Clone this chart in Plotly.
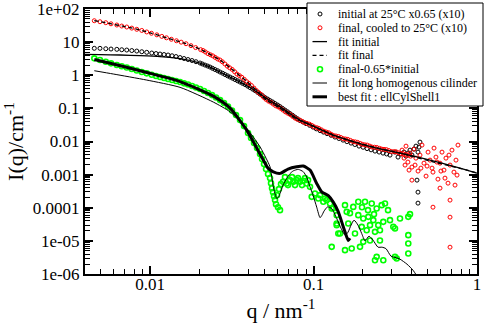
import plotly.graph_objects as go

# ---------------- data (q in nm^-1, I in cm^-1) ----------------
initial_pts = [
    (0.00456, 6.50), (0.00494, 6.50), (0.00536, 6.32), (0.00577, 6.19), (0.00626, 6.06),
    (0.00671, 5.89), (0.00720, 5.77), (0.00773, 5.57), (0.00829, 5.38), (0.00890, 5.13),
    (0.00954, 4.92), (0.01024, 4.69), (0.01088, 4.52), (0.01151, 4.37), (0.01218, 4.22),
    (0.01289, 4.08), (0.01363, 3.88), (0.01442, 3.67), (0.01526, 3.42), (0.01614, 3.20),
    (0.01708, 2.98), (0.01807, 2.78), (0.01911, 2.56), (0.02022, 2.34), (0.02170, 2.03),
    (0.02328, 1.77), (0.02498, 1.49), (0.02680, 1.25), (0.02876, 1.05), (0.03085, 0.882),
    (0.03311, 0.741), (0.03552, 0.623), (0.03811, 0.524), (0.04089, 0.425), (0.04387, 0.345),
    (0.04707, 0.270), (0.05050, 0.212), (0.05419, 0.172), (0.05814, 0.140), (0.06238, 0.113),
    (0.06693, 0.0888), (0.07181, 0.0697), (0.07705, 0.0546), (0.08266, 0.0428), (0.08996, 0.0347),
    (0.09929, 0.0272), (0.1096, 0.0213), (0.1209, 0.0173), (0.1353, 0.0136), (0.1515, 0.0110),
    (0.1696, 0.00895), (0.1898, 0.00726), (0.2124, 0.00610), (0.2377, 0.00513), (0.2661, 0.00446),
    (0.2937, 0.00388), (0.3151, 0.00478), (0.3288, 0.00338), (0.3429, 0.00416), (0.3577, 0.00478),
    (0.3679, 0.00362), (0.3784, 0.00446), (0.3892, 0.00550), (0.4003, 0.00388), (0.4117, 0.00589),
    (0.4234, 0.00726), (0.4356, 0.00478), (0.4418, 0.00677), (0.4480, 0.00959),
    (0.4295, 0.000682), (0.4356, 0.000296), (0.4356, 0.000138),
    (0.0209, 2.19), (0.0225, 1.90), (0.0241, 1.62), (0.0259, 1.37), (0.0278, 1.15),
    (0.0298, 0.96), (0.0320, 0.81), (0.0343, 0.68), (0.0368, 0.57), (0.0395, 0.472),
    (0.0424, 0.383), (0.0455, 0.305), (0.0488, 0.240), (0.0524, 0.191), (0.0562, 0.156),
    (0.0603, 0.126), (0.0646, 0.100), (0.0694, 0.0786), (0.0744, 0.0617), (0.0798, 0.0485),
    (0.0863, 0.0386), (0.0946, 0.0308), (0.104, 0.0241), (0.115, 0.0192), (0.128, 0.0154),
    (0.143, 0.0123), (0.160, 0.0099), (0.179, 0.0081), (0.201, 0.0067), (0.225, 0.0056),
    (0.252, 0.0048), (0.280, 0.0042),
]

final_pts = [
    (0.00456, 44.3), (0.00494, 41.3), (0.00536, 38.6), (0.00577, 35.7), (0.00626, 32.9),
    (0.00671, 30.6), (0.00720, 28.6), (0.00773, 26.5), (0.00829, 24.4), (0.00890, 22.5),
    (0.00954, 20.3), (0.0102, 18.5), (0.0110, 16.6), (0.0118, 14.9), (0.0126, 13.5),
    (0.0135, 12.2), (0.0145, 11.0), (0.0155, 9.98), (0.0166, 8.95), (0.0178, 7.81),
    (0.0190, 6.84), (0.0204, 5.93), (0.0218, 5.04), (0.0234, 4.15), (0.0250, 3.47),
    (0.0268, 2.88), (0.0287, 2.19), (0.0307, 1.68), (0.0329, 1.28), (0.0352, 0.977),
    (0.0377, 0.752), (0.0403, 0.565), (0.0432, 0.411), (0.0462, 0.299), (0.0495, 0.218),
    (0.0530, 0.166), (0.0567, 0.135), (0.0607, 0.111), (0.0650, 0.0891), (0.0696, 0.0713),
    (0.0745, 0.0574), (0.0797, 0.0467), (0.0853, 0.0404), (0.0913, 0.0352), (0.0978, 0.0305),
    (0.105, 0.0260), (0.112, 0.0224), (0.120, 0.0192), (0.128, 0.0166), (0.137, 0.0147),
    (0.147, 0.0132), (0.157, 0.0119), (0.168, 0.0108), (0.180, 0.00975), (0.193, 0.00875),
    (0.206, 0.00794), (0.221, 0.00726), (0.236, 0.00673), (0.253, 0.00622), (0.270, 0.00578),
    (0.289, 0.00534), (0.310, 0.00493), (0.331, 0.00457), (0.355, 0.00419), (0.380, 0.00383),
    (0.0211, 5.6), (0.0226, 4.5), (0.0242, 3.85), (0.0259, 3.1), (0.0277, 2.55),
    (0.0297, 1.88), (0.0318, 1.5), (0.0340, 1.09), (0.0364, 0.87), (0.0390, 0.64),
    (0.0417, 0.49), (0.0447, 0.345), (0.0478, 0.262), (0.0512, 0.187), (0.0548, 0.153),
    (0.0587, 0.120), (0.0628, 0.101), (0.0673, 0.0785), (0.0720, 0.0652), (0.0771, 0.0508),
    (0.0825, 0.0442), (0.0883, 0.0371), (0.0945, 0.0334), (0.101, 0.0277), (0.108, 0.0247),
    (0.116, 0.0204), (0.124, 0.0183), (0.132, 0.0153), (0.142, 0.0142), (0.152, 0.0122),
    (0.162, 0.0116), (0.174, 0.0100), (0.186, 0.0094), (0.199, 0.0082), (0.213, 0.0078),
    (0.228, 0.0068), (0.244, 0.0066), (0.261, 0.0059), (0.279, 0.0057), (0.299, 0.0050),
    (0.320, 0.0049), (0.343, 0.0043), (0.367, 0.0041), (0.392, 0.0036),
    (0.348, 0.00550), (0.358, 0.00315), (0.368, 0.00726), (0.378, 0.00239), (0.389, 0.00446),
    (0.400, 0.00169), (0.412, 0.00589), (0.423, 0.00315), (0.436, 0.00128), (0.448, 0.00388),
    (0.461, 0.00779), (0.474, 0.00222), (0.488, 0.000901), (0.502, 0.00478), (0.516, 0.00274),
    (0.531, 0.00157), (0.546, 0.00632), (0.561, 0.00338), (0.577, 0.000731), (0.594, 0.00222),
    (0.611, 0.00478), (0.628, 0.00137), (0.646, 0.00315), (0.665, 0.000553), (0.684, 0.00194),
    (0.703, 0.00550), (0.723, 0.00119), (0.744, 0.00274), (0.765, 0.00779), (0.755, 0.000966),
    (0.734, 0.000482), (0.674, 0.00388), (0.637, 0.000784), (0.602, 0.00128), (0.569, 0.00239),
    (0.538, 0.00119), (0.495, 0.00181), (0.454, 0.00157), (0.418, 0.00194), (0.384, 0.00137),
    (0.363, 0.00194), (0.538, 0.000104), (0.684, 5.2e-5), (0.684, 6.45e-6), (0.400, 0.000682),
    (0.594, 0.000391), (0.684, 0.00017),
]

fit_initial_pts = [
    (0.0040, 4.28), (0.00494, 4.19), (0.00655, 4.08), (0.00869, 3.91), (0.01151, 3.67),
    (0.01526, 3.20), (0.02022, 2.34), (0.02328, 1.77), (0.0268, 1.25), (0.03085, 0.882),
    (0.03552, 0.623), (0.04089, 0.425), (0.04707, 0.270), (0.05419, 0.172), (0.06238, 0.113),
    (0.07181, 0.0697), (0.08266, 0.0443), (0.09929, 0.0292), (0.1316, 0.0156), (0.1671, 0.01064),
    (0.2124, 0.00752), (0.2661, 0.00569), (0.3381, 0.00446), (0.4480, 0.00326), (0.5939, 0.00230),
    (0.787, 0.00157), (1.0, 0.00111),
]

fit_final_pts = [
    (0.00456, 44.3), (0.00536, 38.6), (0.00626, 32.9), (0.00737, 28.0), (0.00869, 23.2),
    (0.01024, 18.5), (0.01289, 13.0), (0.01637, 9.20), (0.02071, 5.77), (0.0268, 2.88),
    (0.0309, 1.68), (0.0390, 0.654), (0.0517, 0.178), (0.0624, 0.102), (0.0789, 0.0475),
    (0.0997, 0.0292), (0.1316, 0.0156), (0.2124, 0.00759), (0.338, 0.00446), (0.538, 0.00244),
    (0.8685, 0.00137), (1.0, 0.00111),
]

diff_pts = [
    (0.00456, 3.24), (0.00494, 2.88), (0.00536, 2.56), (0.00577, 2.29), (0.00626, 2.03),
    (0.00671, 1.86), (0.00720, 1.71), (0.00773, 1.54), (0.00829, 1.39), (0.00890, 1.25),
    (0.00954, 1.14), (0.01024, 1.04), (0.01088, 0.946), (0.01151, 0.882), (0.01218, 0.823),
    (0.01289, 0.768), (0.01363, 0.716), (0.01442, 0.668), (0.01526, 0.623), (0.01614, 0.569),
    (0.01708, 0.524), (0.01807, 0.472), (0.01911, 0.425), (0.02022, 0.383), (0.02139, 0.333),
    (0.02263, 0.290), (0.02394, 0.252), (0.02533, 0.212), (0.02680, 0.178), (0.02835, 0.145),
    (0.02999, 0.113), (0.03173, 0.0858), (0.03357, 0.0627), (0.03552, 0.0443), (0.03757, 0.0292),
    (0.03975, 0.0179), (0.04147, 0.0127), (0.04326, 0.00895), (0.04512, 0.00632), (0.04707, 0.00416),
    (0.04842, 0.00294), (0.04980, 0.00208), (0.05123, 0.00147), (0.05269, 0.00104), (0.05419, 0.000784),
    (0.05496, 0.000553), (0.05573, 0.000391), (0.05652, 0.000296), (0.05732, 0.000224), (0.05814, 0.000170),
    (0.05896, 0.000128), (0.06064, 0.000104), (0.06238, 8.46e-5), (0.05979, 0.000240), (0.06150, 0.000365),
    (0.06326, 0.000516), (0.06507, 0.000606), (0.06856, 0.000542), (0.07181, 0.000682), (0.07524, 0.000606),
    (0.07891, 0.000682), (0.08266, 0.000606), (0.08660, 0.000650), (0.09087, 0.000542), (0.09519, 0.000428),
    (0.06693, 0.000840), (0.06982, 0.000482), (0.07386, 0.000840), (0.07705, 0.000482), (0.08037, 0.000784),
    (0.08502, 0.000482), (0.08869, 0.000784), (0.09257, 0.000682), (0.09750, 0.000213), (0.1021, 0.000270),
    (0.1070, 0.000191), (0.1148, 0.000151), (0.1204, 0.000170), (0.1262, 0.000135), (0.1321, 9.52e-5),
    (0.1386, 5.97e-5), (0.1292, 6.59e-6),
    (0.1096, 0.000240), (0.1176, 0.000191), (0.1292, 9.52e-5), (0.1386, 2.98e-5), (0.1418, 1.67e-5),
    (0.1558, 0.000120), (0.1596, 7.52e-5), (0.1751, 0.000106), (0.1879, 0.000151), (0.2065, 0.000151),
    (0.2270, 0.000135), (0.2434, 9.52e-5), (0.2612, 0.000120), (0.2737, 0.000135), (0.1879, 5.97e-5),
    (0.2016, 4.75e-5), (0.2164, 5.31e-5), (0.2321, 4.22e-5), (0.2490, 2.98e-5), (0.2672, 3.75e-5),
    (0.1971, 2.65e-5), (0.2115, 2.10e-5), (0.2377, 1.87e-5), (0.2550, 2.10e-5), (0.2216, 2.98e-5),
    (0.3076, 2.65e-5), (0.3381, 4.75e-5), (0.3800, 5.31e-5), (0.3892, 6.4e-5), (0.3800, 1.49e-5),
    (0.3800, 8.35e-6), (0.3800, 4.16e-6), (0.1558, 5.24e-6), (0.1712, 5.89e-6), (0.1925, 6.59e-6),
    (0.2434, 3.29e-6), (0.2377, 2.61e-6), (0.3151, 3.29e-6), (0.2550, 1.03e-5), (0.2216, 1.03e-5),
    (0.1794, 1.67e-5), (0.2937, 4.22e-5), (0.3151, 2.37e-5), (0.2154, 8.46e-5), (0.1980, 0.000104),
    (0.1671, 6.87e-5), (0.2856, 8.46e-5), (0.2344, 6.41e-5), (0.2672, 2.61e-6), (0.3227, 2.94e-6),
    (0.2016, 9.33e-6), (0.1452, 1.67e-5), (0.1632, 3.36e-5), (0.1386, 3.36e-5),
]

cylinder_pts = [
    (0.00456, 1.37), (0.00596, 1.09), (0.00954, 0.716), (0.01526, 0.431), (0.02438, 0.155),
    (0.03085, 0.0789), (0.03903, 0.0249), (0.04707, 0.00692), (0.05123, 0.00315), (0.05419, 0.00172),
    (0.05676, 0.000428), (0.05955, 0.000191), (0.06107, 0.000209), (0.06238, 0.000270), (0.06507, 0.000482),
    (0.06856, 0.000768), (0.07181, 0.00107), (0.07524, 0.00130), (0.08071, 0.00144), (0.08660, 0.00122),
    (0.09087, 0.000840), (0.09519, 0.000428), (0.09929, 0.000240), (0.1046, 0.000104), (0.1096, 5.02e-5),
    (0.1127, 5.97e-5), (0.1159, 7.89e-5), (0.1218, 0.000106), (0.1292, 9.52e-5), (0.1386, 4.75e-5),
    (0.1473, 2.42e-5), (0.1558, 1.49e-5), (0.1626, 1.83e-5), (0.1696, 2.98e-5), (0.1769, 4.22e-5),
    (0.1872, 2.98e-5), (0.1971, 1.67e-5), (0.2065, 1.01e-5), (0.2185, 1.39e-5), (0.2312, 1.05e-5),
    (0.2480, 6.45e-6), (0.2624, 6.45e-6), (0.2776, 5.81e-6), (0.2979, 3.45e-6), (0.3196, 3.11e-6),
    (0.3381, 2.80e-6), (0.3731, 1.98e-6), (0.4062, 1.30e-6), (0.4295, 8.58e-7),
]

best_fit_pts = [
    (0.00456, 2.98), (0.00596, 2.18), (0.00954, 1.21), (0.01526, 0.645), (0.02438, 0.235),
    (0.03085, 0.102), (0.03903, 0.0221), (0.04493, 0.00632), (0.04932, 0.00274), (0.05269, 0.00157),
    (0.05676, 0.00122), (0.06238, 0.00109), (0.06982, 0.00147), (0.07891, 0.00172), (0.08660, 0.00181),
    (0.09519, 0.00137), (0.1046, 0.000542), (0.1122, 0.000302), (0.1232, 0.000232), (0.1321, 0.000148),
    (0.1418, 7.52e-5), (0.1487, 3.75e-5), (0.1558, 1.87e-5), (0.1632, 1.03e-5), (0.1671, 1.2e-5),
]

x_tick_vals = [0.01, 0.1, 1]
x_tick_text = ["0.01", "0.1", "1"]
y_tick_vals = [1e2, 1e1, 1, 0.1, 0.01, 1e-3, 1e-4, 1e-5, 1e-6]
y_tick_text = ["1e+02", "10", "1", "0.1", "0.01", "0.001", "0.0001", "1e-05", "1e-06"]

legend_labels = [
    "initial at 25°C x0.65 (x10)",
    "final, cooled to 25°C (x10)",
    "fit initial",
    "fit final",
    "final-0.65*initial",
    "fit long homogenous cilinder",
    "best fit : ellCylShell1",
]

# ---------------- styling ----------------
W, H = 491, 328
ML, MR, MT, MB = 85, 14, 9, 54
FONT = "Liberation Serif, Times New Roman, Times, DejaVu Serif, serif"
GREEN = "#00ff00"

styles = [
    dict(kind="marker", color="black", size=4, lw=1),
    dict(kind="marker", color="red", size=4, lw=1),
    dict(kind="line", color="black", width=1.3, dash="solid"),
    dict(kind="line", color="black", width=1.3, dash="4px,3px"),
    dict(kind="marker", color=GREEN, size=5, lw=1.6),
    dict(kind="line", color="black", width=1, dash="solid"),
    dict(kind="line", color="black", width=3, dash="solid"),
]
series = [initial_pts, final_pts, fit_initial_pts, fit_final_pts, diff_pts, cylinder_pts, best_fit_pts]

fig = go.Figure()
for pts, st, name in zip(series, styles, legend_labels):
    xs = [p[0] for p in pts]
    ys = [p[1] for p in pts]
    if st["kind"] == "marker":
        fig.add_trace(go.Scatter(
            x=xs, y=ys, mode="markers", name=name, showlegend=False,
            marker=dict(symbol="circle-open", size=st["size"], color=st["color"],
                        line=dict(width=st["lw"], color=st["color"]))))
    else:
        fig.add_trace(go.Scatter(
            x=xs, y=ys, mode="lines", name=name, showlegend=False,
            line=dict(color=st["color"], width=st["width"], dash=st["dash"],
                      shape="spline", smoothing=0.6)))

def minor_vals(lo, hi):
    return [k * 10.0 ** e for e in range(lo, hi) for k in range(2, 10)]

axis_common = dict(
    type="log", showgrid=False, zeroline=False, showline=True,
    linecolor="black", linewidth=2, mirror="ticks",
    ticks="inside", ticklen=8, tickwidth=1.5, tickcolor="black",
    tickfont=dict(family=FONT, size=17, color="black"),
    tickmode="array", ticklabeloverflow="allow",
)

fig.update_xaxes(
    **axis_common, range=[-2.39794, 0.0001],
    tickvals=x_tick_vals, ticktext=x_tick_text,
    minor=dict(ticks="inside", ticklen=5, tickwidth=1, tickcolor="black",
               tickmode="array", tickvals=minor_vals(-3, 0), showgrid=False),
    title=dict(text="q / nm<sup>-1</sup>", font=dict(family=FONT, size=22, color="black"), standoff=9),
)
fig.update_yaxes(
    **axis_common, range=[-6.0001, 2.0001],
    tickvals=y_tick_vals, ticktext=y_tick_text,
    minor=dict(ticks="inside", ticklen=5, tickwidth=1, tickcolor="black",
               tickmode="array", tickvals=minor_vals(-6, 2), showgrid=False),
    title=dict(text="I(q)/cm<sup>-1</sup>", font=dict(family=FONT, size=22, color="black"), standoff=8),
)
try:
    fig.update_xaxes(ticklabelstandoff=-6)
except Exception:
    pass

# ---------------- hand-built legend box (matches original compact layout) ----------------
PW = W - ML - MR
PH = H - MT - MB
def px_x(px):
    return (px - ML) / PW
def px_y(py):
    return (H - MB - py) / PH

shapes = [dict(type="rect", xref="paper", yref="paper", layer="above",
               x0=px_x(307), x1=px_x(483), y0=px_y(106), y1=px_y(3),
               fillcolor="white", line=dict(color="black", width=1))]
annotations = []
row0, step = 14.0, 13.8
for i, (label, st) in enumerate(zip(legend_labels, styles)):
    ry = row0 + i * step
    if st["kind"] == "marker":
        r = st["size"] / 2
        shapes.append(dict(type="circle", xref="paper", yref="paper", layer="above",
                           xsizemode="pixel", ysizemode="pixel",
                           xanchor=px_x(320), yanchor=px_y(ry),
                           x0=-r, x1=r, y0=-r, y1=r,
                           line=dict(color=st["color"], width=st["lw"]),
                           fillcolor="rgba(0,0,0,0)"))
    else:
        shapes.append(dict(type="line", xref="paper", yref="paper", layer="above",
                           x0=px_x(312.5), x1=px_x(327), y0=px_y(ry), y1=px_y(ry),
                           line=dict(color=st["color"], width=st["width"], dash=st["dash"])))
    annotations.append(dict(text=label, xref="paper", yref="paper", x=px_x(336), y=px_y(ry),
                            xanchor="left", yanchor="middle", showarrow=False,
                            font=dict(family=FONT, size=12, color="black")))

fig.update_layout(
    width=W, height=H,
    margin=dict(l=ML, r=MR, t=MT, b=MB, autoexpand=False),
    paper_bgcolor="white", plot_bgcolor="white",
    font=dict(family=FONT, color="black"),
    showlegend=False,
    shapes=shapes, annotations=annotations,
)

fig.write_html("out.html", config={"displayModeBar": False},
               post_script="document.body.style.margin='0px';document.body.style.padding='0px';")
